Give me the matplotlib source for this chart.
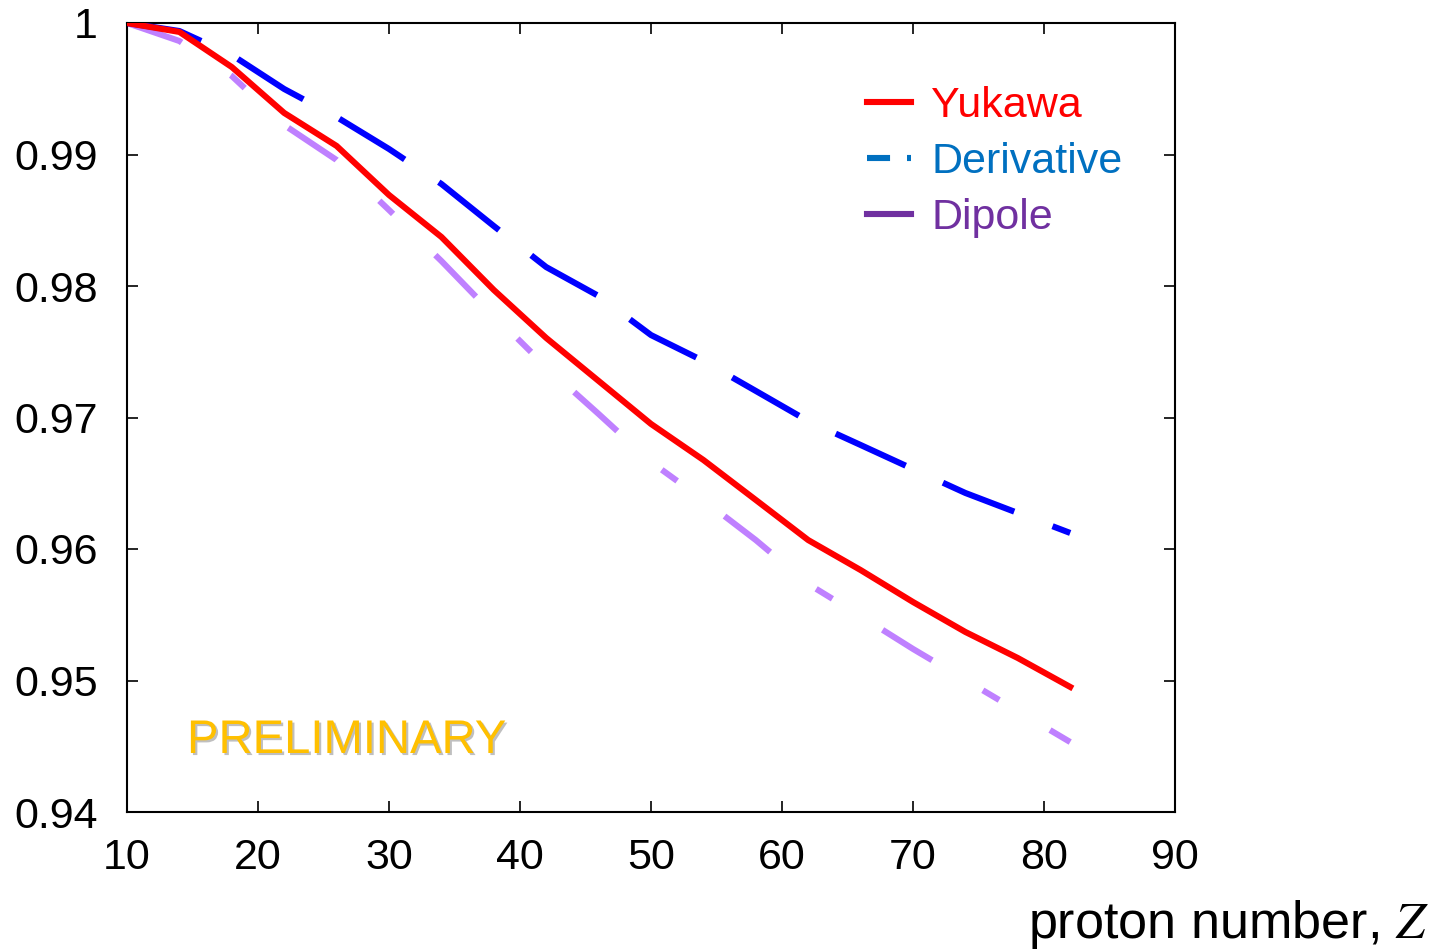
import matplotlib
matplotlib.use("Agg")
import matplotlib.pyplot as plt
from matplotlib.lines import Line2D
import matplotlib.patheffects as pe

plt.rcParams['font.family'] = ['Liberation Sans', 'DejaVu Sans']
plt.rcParams['mathtext.fontset'] = 'stix'
plt.rcParams['lines.scale_dashes'] = False

Z = [10, 14, 18, 22, 26, 30, 34, 38, 42, 46, 50, 54, 58, 62, 66, 70, 74, 78, 82]
yukawa = [1.0, 0.99932, 0.99665, 0.99316, 0.99065, 0.98692, 0.98373, 0.97970, 0.97605,
          0.97278, 0.96951, 0.96677, 0.96373, 0.96068, 0.95840, 0.95597, 0.95369, 0.95171, 0.94951]
derivative = [1.0, 0.99939, 0.99757, 0.99498, 0.99285, 0.99042, 0.98776, 0.98456, 0.98144,
              0.97924, 0.97627, 0.97430, 0.97202, 0.96973, 0.96791, 0.96608, 0.96426, 0.96274, 0.96122]
dipole = [1.0, 0.99863, 0.99597, 0.99224, 0.98958, 0.98578, 0.98190, 0.97779, 0.97384,
          0.97027, 0.96662, 0.96373, 0.96068, 0.95734, 0.95490, 0.95240, 0.95004, 0.94768, 0.94532]

xticks = [10, 20, 30, 40, 50, 60, 70, 80, 90]
yticks = [0.94, 0.95, 0.96, 0.97, 0.98, 0.99, 1.0]
ytick_labels = ['0.94', '0.95', '0.96', '0.97', '0.98', '0.99', '1']
series_names = ['Yukawa', 'Derivative', 'Dipole']

fig = plt.figure(figsize=(14.49, 9.5), dpi=100)
ax = fig.add_axes([127/1449, 1-812/950, (1175-127)/1449, (812-23)/950])

lw = 4.4
ax.plot(Z, dipole, color='#BF80FF', lw=lw, dashes=(41.8, 42.5, 13.7, 42.5), zorder=2)
ax.plot(Z, derivative, color='#0000FF', lw=lw, dashes=(55.4, 29.5), zorder=3)
ax.plot(Z, yukawa, color='#FF0000', lw=lw, zorder=4)

ax.set_xlim(10, 90)
ax.set_ylim(0.94, 1.0)
ax.set_xticks(xticks)
ax.set_xticklabels([str(t) for t in xticks])
ax.set_yticks(yticks)
ax.set_yticklabels(ytick_labels)
for s in ax.spines.values():
    s.set_linewidth(1.5)
ax.tick_params(direction='in', length=8, width=1.2, top=True, right=True,
               labelsize=31)
ax.tick_params(axis='y', pad=21)
ax.tick_params(axis='x', pad=19)

handles = [
    Line2D([], [], color='#FF0000', lw=lw),
    Line2D([], [], color='#0070C0', lw=lw, dashes=(16.6, 12.2, 5, 30)),
    Line2D([], [], color='#7030A0', lw=lw),
]
ax.legend(handles, series_names, loc='upper left',
          bbox_to_anchor=((867-127)/1048, 1-(86-23)/789),
          frameon=False, fontsize=31, handlelength=1.02, handletextpad=0.47,
          labelspacing=0.37, borderpad=0, borderaxespad=0,
          labelcolor=['#FF0000', '#0070C0', '#7030A0'])

ax.text((187-127)/1048 * 80 + 10, 0.9454, 'PRELIMINARY', color='#FFC000', fontsize=34,
        ha='left', va='center',
        path_effects=[pe.withSimplePatchShadow(offset=(1.5, -1.5), shadow_rgbFace='#808080', alpha=0.5)])

fig.text(1028/1449, 1-938/950, 'proton number, $Z$', fontsize=37.5, ha='left', va='baseline')

fig.savefig('out.png', dpi=100)
